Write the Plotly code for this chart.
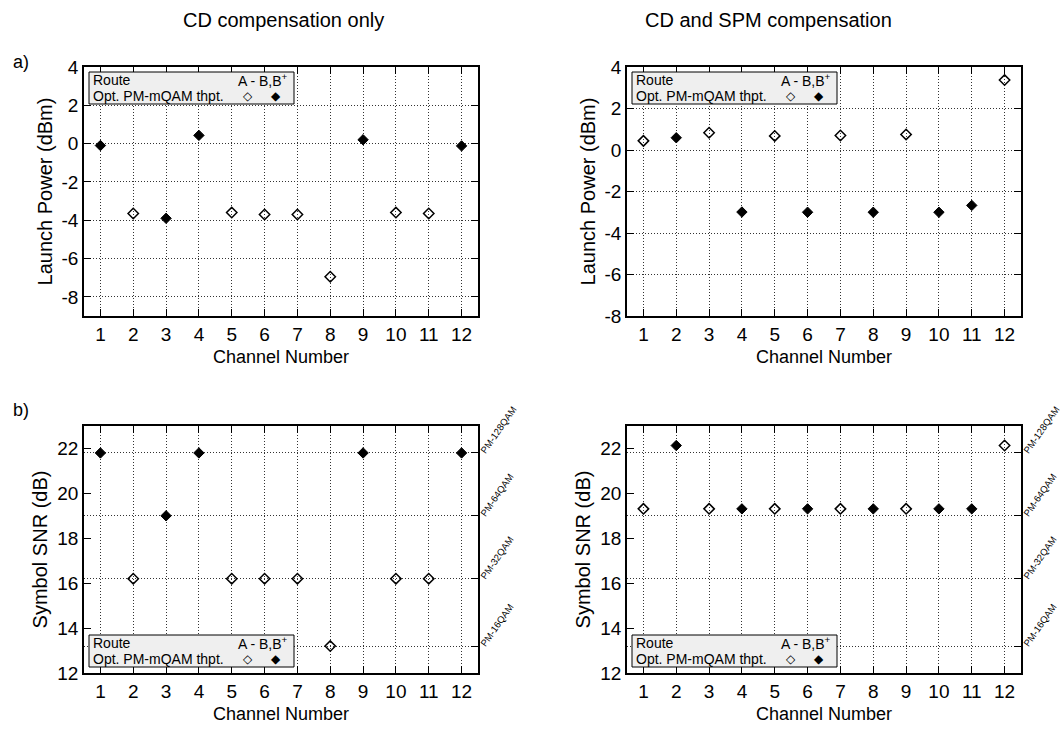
import plotly.graph_objects as go

# ---------------- data ----------------
channels = list(range(1, 13))

# Launch power (dBm), CD compensation only
lp_cd_open = [None, -3.65, None, None, -3.6, -3.7, -3.7, -6.95, None, -3.6, -3.65, None]
lp_cd_filled = [-0.1, None, -3.9, 0.43, None, None, None, None, 0.2, None, None, -0.12]

# Launch power (dBm), CD and SPM compensation
lp_spm_open = [0.44, None, 0.83, None, 0.68, None, 0.7, None, 0.75, None, None, 3.37]
lp_spm_filled = [None, 0.59, None, -2.99, None, -3.0, None, -3.0, None, -3.0, -2.67, None]

# Symbol SNR (dB), CD compensation only
snr_cd_open = [None, 16.2, None, None, 16.2, 16.2, 16.2, 13.2, None, 16.2, 16.2, None]
snr_cd_filled = [21.8, None, 19.0, 21.8, None, None, None, None, 21.8, None, None, 21.8]

# Symbol SNR (dB), CD and SPM compensation
snr_spm_open = [19.31, None, 19.31, None, 19.31, None, 19.31, None, 19.31, None, None, 22.13]
snr_spm_filled = [None, 22.13, None, 19.31, None, 19.31, None, 19.31, None, 19.31, 19.31, None]

# modulation-format thresholds (right axis)
qam_snr = [13.2, 16.2, 19.0, 21.8]
qam_labels = ["PM-16QAM", "PM-32QAM", "PM-64QAM", "PM-128QAM"]

lp_ticks = [-8, -6, -4, -2, 0, 2, 4]
lp_ticktext = ["-8", "-6", "-4", "-2", "0", "2", "4"]
snr_ticks = [12, 14, 16, 18, 20, 22]
snr_ticktext = ["12", "14", "16", "18", "20", "22"]

titles = ["CD compensation only", "CD and SPM compensation"]

# ---------------- layout helpers ----------------
W, H = 1062, 740
FONT = "Liberation Sans, Arial, sans-serif"


def px(x):
    return x / W


def py(y):
    return 1 - y / H


fig = go.Figure()


def add_pair(xa, ya, open_vals, filled_vals):
    fig.add_trace(go.Scatter(x=channels, y=open_vals, mode="markers", xaxis=xa, yaxis=ya,
                             marker=dict(symbol="diamond-open", size=8, color="black",
                                         line=dict(width=1.5, color="black")),
                             showlegend=False, hoverinfo="x+y"))
    fig.add_trace(go.Scatter(x=channels, y=filled_vals, mode="markers", xaxis=xa, yaxis=ya,
                             marker=dict(symbol="diamond", size=8, color="black",
                                         line=dict(width=1, color="black")),
                             showlegend=False, hoverinfo="x+y"))


add_pair("x", "y", lp_cd_open, lp_cd_filled)
add_pair("x2", "y2", lp_spm_open, lp_spm_filled)
add_pair("x3", "y3", snr_cd_open, snr_cd_filled)
add_pair("x4", "y4", snr_spm_open, snr_spm_filled)
# empty traces to register the right-hand threshold axes
fig.add_trace(go.Scatter(x=[], y=[], xaxis="x3", yaxis="y5", showlegend=False))
fig.add_trace(go.Scatter(x=[], y=[], xaxis="x4", yaxis="y6", showlegend=False))

L_LEFT, L_RIGHT = 84, 478
R_LEFT, R_RIGHT = 627, 1021
T_TOP, T_BOT = 67, 316
B_TOP, B_BOT = 426, 673

tickfont = dict(family=FONT, size=19, color="black")
xtitlefont = dict(family=FONT, size=18, color="black")
ytitlefont = dict(family=FONT, size=20, color="black")
grid = dict(showgrid=True, gridcolor="#333333", griddash="1px,2px", gridwidth=1)


def xaxis_cfg(left, right, anchor):
    return dict(domain=[px(left), px(right)], anchor=anchor, range=[0.5, 12.5],
                tickvals=channels, ticks="inside", ticklen=7, tickcolor="black",
                showline=True, linecolor="black", linewidth=1.5, mirror="ticks",
                zeroline=False, tickfont=tickfont, automargin=False,
                title=dict(text="Channel Number", font=xtitlefont, standoff=7),
                **grid)


def yaxis_lp(top, bot, anchor, rng):
    return dict(domain=[py(bot), py(top)], anchor=anchor, range=rng, tickvals=lp_ticks,
                ticktext=lp_ticktext,
                ticks="inside", ticklen=7, tickcolor="black", showline=True, linecolor="black",
                linewidth=1.5, mirror="ticks", zeroline=False, tickfont=tickfont,
                automargin=False,
                title=dict(text="Launch Power (dBm)", font=ytitlefont, standoff=4), **grid)


def yaxis_snr(top, bot, anchor):
    return dict(domain=[py(bot), py(top)], anchor=anchor, range=[12, 23], tickvals=snr_ticks,
                ticktext=snr_ticktext,
                ticks="inside", ticklen=7, tickcolor="black", showline=True, linecolor="black",
                linewidth=1.5, mirror=False, zeroline=False, showgrid=False, tickfont=tickfont,
                automargin=False,
                title=dict(text="Symbol SNR (dB)", font=ytitlefont, standoff=4))


def yaxis_qam(anchor, overlay):
    return dict(anchor=anchor, overlaying=overlay, side="right", range=[12, 23],
                tickvals=qam_snr, ticktext=qam_labels, tickangle=-55,
                ticks="inside", ticklen=7, tickcolor="black", showline=True, linecolor="black",
                linewidth=1.5, zeroline=False, automargin=False,
                tickfont=dict(family=FONT, size=9.5, color="black"),
                **grid)


layout = dict(
    width=W, height=H, margin=dict(l=0, r=0, t=0, b=0, autoexpand=False),
    paper_bgcolor="white", plot_bgcolor="white", showlegend=False,
    font=dict(family=FONT, color="black"),
    xaxis=xaxis_cfg(L_LEFT, L_RIGHT, "y"),
    yaxis=yaxis_lp(T_TOP, T_BOT, "x", [-9, 4]),
    xaxis2=xaxis_cfg(R_LEFT, R_RIGHT, "y2"),
    yaxis2=yaxis_lp(T_TOP, T_BOT, "x2", [-8, 4]),
    xaxis3=xaxis_cfg(L_LEFT, L_RIGHT, "y3"),
    yaxis3=yaxis_snr(B_TOP, B_BOT, "x3"),
    xaxis4=xaxis_cfg(R_LEFT, R_RIGHT, "y4"),
    yaxis4=yaxis_snr(B_TOP, B_BOT, "x4"),
    yaxis5=yaxis_qam("x3", "y3"),
    yaxis6=yaxis_qam("x4", "y4"),
)
fig.update_layout(**layout)

annotations = []
shapes = []

# column titles
annotations.append(dict(x=px(283), y=py(20), xref="paper", yref="paper", text=titles[0],
                        xanchor="center", yanchor="middle",
                        showarrow=False, font=dict(family=FONT, size=20, color="black")))
annotations.append(dict(x=px(768), y=py(20), xref="paper", yref="paper", text=titles[1],
                        xanchor="center", yanchor="middle",
                        showarrow=False, font=dict(family=FONT, size=20, color="black")))
# panel labels
for lab, yy in (("a)", 62), ("b)", 410)):
    annotations.append(dict(x=px(11), y=py(yy), xref="paper", yref="paper", text=lab,
                            xanchor="left", yanchor="middle", showarrow=False,
                            font=dict(family=FONT, size=18, color="black")))

# legend boxes (key)
legfont = dict(family=FONT, size=14, color="black")
for (x0, y0) in ((89, 72), (632, 72), (89, 635), (632, 635)):
    x1, y1 = x0 + 205, y0 + 32
    shapes.append(dict(type="rect", xref="paper", yref="paper", x0=px(x0), x1=px(x1),
                       y0=py(y1), y1=py(y0), fillcolor="#efefef",
                       line=dict(color="black", width=1), layer="above"))
    annotations.append(dict(x=px(x0 + 2), y=py(y0 + 8), xref="paper", yref="paper", text="Route",
                            xanchor="left", yanchor="middle", showarrow=False, font=legfont))
    annotations.append(dict(x=px(x0 + 2), y=py(y0 + 24), xref="paper", yref="paper",
                            text="Opt. PM-mQAM thpt.", xanchor="left", yanchor="middle",
                            showarrow=False, font=legfont))
    annotations.append(dict(x=px(x1 - 4), y=py(y0 + 8), xref="paper", yref="paper",
                            text="A - B,B<sup>+</sup>", xanchor="right", yanchor="middle",
                            showarrow=False, font=legfont))
    annotations.append(dict(x=px(x0 + 159), y=py(y0 + 24), xref="paper", yref="paper",
                            text="◇", xanchor="center", yanchor="middle", showarrow=False,
                            font=dict(family="DejaVu Sans", size=12, color="black")))
    annotations.append(dict(x=px(x0 + 187), y=py(y0 + 24), xref="paper", yref="paper",
                            text="◆", xanchor="center", yanchor="middle", showarrow=False,
                            font=dict(family="DejaVu Sans", size=12, color="black")))

fig.update_layout(annotations=annotations, shapes=shapes)

fig.write_html("out.html")
